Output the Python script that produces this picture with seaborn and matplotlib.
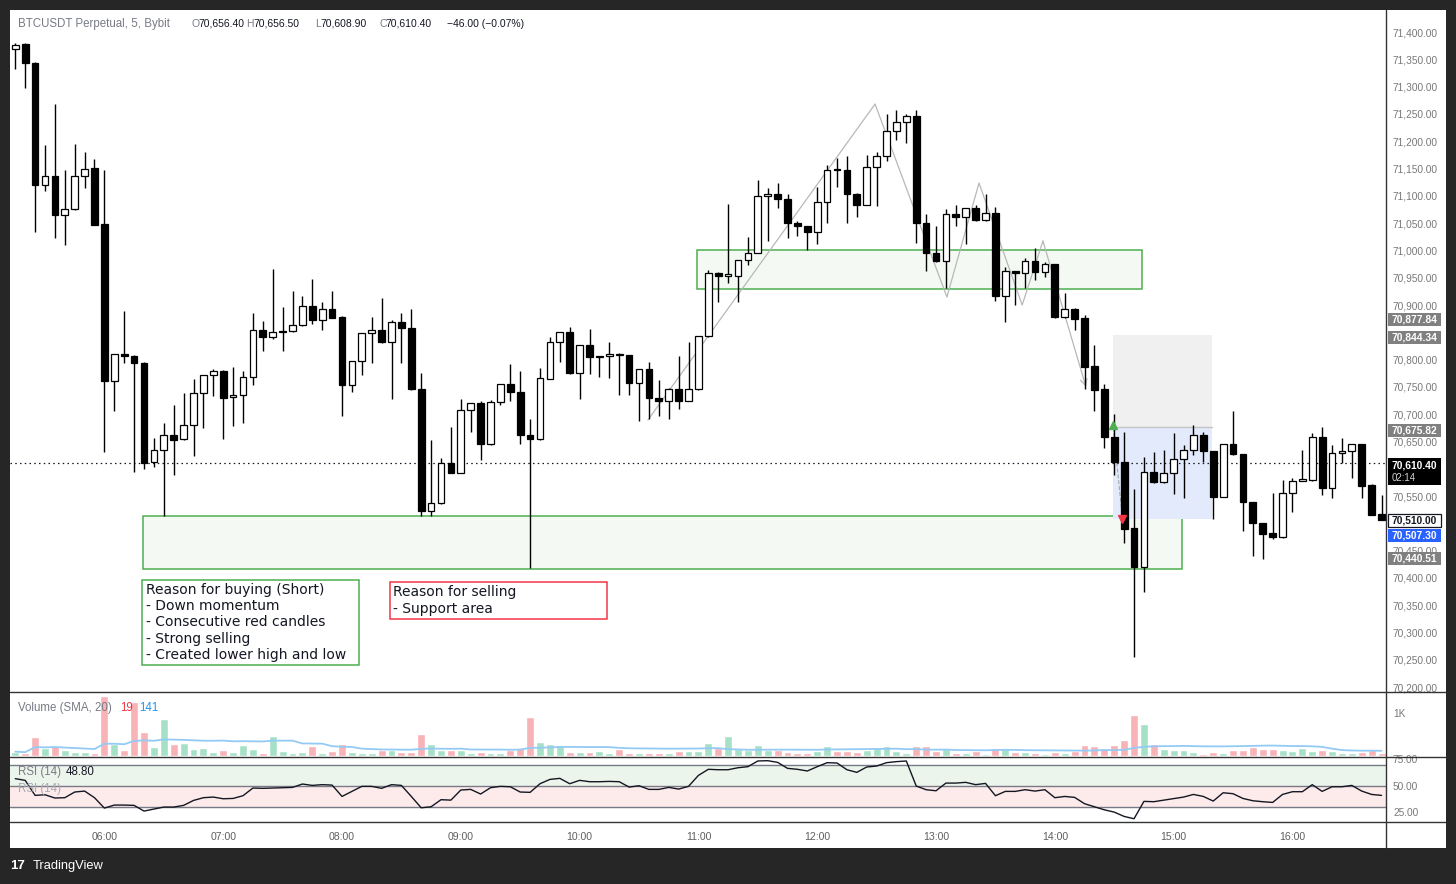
import numpy as np
import pandas as pd
import matplotlib
matplotlib.use("Agg")
import matplotlib.pyplot as plt
import seaborn as sns
from matplotlib.patches import Rectangle
from matplotlib.lines import Line2D

# ---------------- data (5-minute candles, 05:15 -> 16:45) ----------------
opens = [71368, 71378, 71344, 71119, 71137, 71064, 71075, 71137, 71151, 71048,
         70760, 70810, 70807, 70794, 70612, 70634, 70661, 70654, 70680, 70738,
         70771, 70780, 70731, 70736, 70769, 70854, 70842, 70850, 70852, 70863,
         70898, 70873, 70892, 70878, 70754, 70797, 70848, 70855, 70833, 70868,
         70857, 70747, 70523, 70537, 70610, 70593, 70707, 70720, 70645, 70722,
         70755, 70740, 70661, 70654, 70765, 70833, 70850, 70775, 70826, 70805,
         70806, 70811, 70808, 70758, 70782, 70729, 70724, 70746, 70725, 70746,
         70843, 70959, 70954, 70954, 70982, 70996, 71099, 71104, 71095, 71051,
         71044, 71033, 71088, 71149, 71148, 71103, 71084, 71152, 71172, 71218,
         71236, 71247, 71050, 70996, 70980, 71066, 71062, 71077, 71055, 71069,
         70917, 70962, 70958, 70980, 70960, 70975, 70878, 70892, 70876, 70788,
         70746, 70659, 70612, 70492, 70420, 70594, 70575, 70592, 70618, 70634,
         70662, 70632, 70549, 70645, 70627, 70539, 70500, 70482, 70476, 70555,
         70578, 70579, 70658, 70565, 70629, 70632, 70645, 70571, 70517]
highs = [71380, 71379, 71345, 71193, 71268, 71147, 71195, 71180, 71167, 71147,
         70811, 70889, 70808, 70795, 70656, 70683, 70717, 70739, 70765, 70772,
         70783, 70781, 70787, 70779, 70885, 70871, 70966, 70896, 70926, 70917,
         70948, 70906, 70926, 70879, 70798, 70849, 70878, 70913, 70872, 70885,
         70893, 70776, 70652, 70619, 70677, 70728, 70721, 70725, 70726, 70756,
         70792, 70779, 70691, 70785, 70841, 70851, 70860, 70827, 70856, 70807,
         70832, 70813, 70809, 70783, 70795, 70762, 70748, 70806, 70832, 70844,
         70964, 70960, 71085, 70983, 71025, 71129, 71114, 71123, 71103, 71054,
         71045, 71117, 71156, 71170, 71172, 71106, 71174, 71180, 71249, 71258,
         71249, 71258, 71066, 71045, 71076, 71083, 71078, 71083, 71103, 71079,
         70969, 70963, 70986, 71004, 70978, 70976, 70922, 70895, 70881, 70827,
         70755, 70700, 70668, 70563, 70622, 70631, 70634, 70666, 70644, 70680,
         70667, 70633, 70646, 70706, 70628, 70540, 70501, 70555, 70579, 70583,
         70634, 70665, 70676, 70644, 70656, 70646, 70646, 70572, 70552]
lows = [71332, 71298, 71033, 71108, 71023, 71009, 71074, 71115, 71046, 70631,
        70705, 70794, 70595, 70599, 70604, 70514, 70588, 70653, 70624, 70674,
        70734, 70655, 70679, 70683, 70754, 70815, 70838, 70815, 70851, 70862,
        70866, 70855, 70876, 70696, 70740, 70771, 70794, 70831, 70727, 70794,
        70745, 70514, 70514, 70535, 70592, 70592, 70668, 70616, 70644, 70716,
        70725, 70645, 70418, 70652, 70764, 70795, 70774, 70727, 70773, 70769,
        70766, 70736, 70736, 70688, 70691, 70697, 70691, 70710, 70724, 70745,
        70842, 70906, 70940, 70905, 70974, 70996, 71018, 71078, 71022, 71026,
        71001, 71011, 71050, 71117, 71051, 71061, 71083, 71081, 71163, 71203,
        71196, 71013, 70962, 70979, 70932, 71045, 71012, 71054, 71054, 70908,
        70869, 70900, 70931, 70946, 70952, 70877, 70877, 70854, 70746, 70705,
        70639, 70589, 70464, 70255, 70374, 70574, 70574, 70553, 70547, 70625,
        70612, 70508, 70548, 70625, 70486, 70441, 70434, 70471, 70473, 70520,
        70577, 70577, 70552, 70546, 70611, 70584, 70547, 70515, 70506]
closes = [71377, 71344, 71119, 71137, 71064, 71075, 71137, 71150, 71047, 70760,
          70810, 70806, 70793, 70611, 70634, 70661, 70653, 70680, 70739, 70771,
          70780, 70730, 70736, 70769, 70854, 70842, 70850, 70851, 70863, 70898,
          70873, 70892, 70877, 70754, 70797, 70848, 70855, 70833, 70868, 70857,
          70747, 70523, 70537, 70610, 70593, 70707, 70720, 70645, 70722, 70755,
          70740, 70661, 70654, 70766, 70833, 70850, 70775, 70826, 70804, 70806,
          70811, 70808, 70758, 70782, 70729, 70724, 70746, 70725, 70746, 70843,
          70959, 70954, 70955, 70982, 70996, 71099, 71104, 71095, 71051, 71044,
          71033, 71088, 71147, 71147, 71103, 71084, 71152, 71172, 71218, 71236,
          71247, 71050, 70996, 70980, 71066, 71062, 71077, 71055, 71069, 70917,
          70962, 70958, 70980, 70960, 70975, 70878, 70892, 70875, 70787, 70745,
          70659, 70612, 70489, 70420, 70594, 70575, 70592, 70618, 70634, 70662,
          70632, 70549, 70645, 70627, 70539, 70500, 70481, 70476, 70555, 70577,
          70579, 70658, 70565, 70629, 70632, 70645, 70569, 70516, 70507]
volumes = [100, 77, 439, 185, 231, 139, 100, 100, 77, 1394,
           277, 139, 1255, 554, 208, 855, 277, 300, 162, 185,
           100, 139, 100, 254, 162, 77, 462, 116, 77, 100,
           231, 77, 116, 277, 100, 77, 77, 139, 139, 100,
           100, 508, 277, 139, 139, 139, 77, 100, 77, 77,
           139, 185, 909, 323, 277, 254, 100, 100, 100, 116,
           77, 162, 77, 77, 62, 77, 77, 116, 116, 116,
           300, 185, 462, 162, 139, 254, 139, 139, 92, 77,
           77, 116, 231, 116, 116, 100, 139, 185, 231, 116,
           77, 231, 231, 116, 162, 77, 77, 116, 54, 185,
           162, 100, 100, 77, 54, 92, 77, 116, 254, 231,
           185, 254, 370, 947, 739, 277, 162, 139, 139, 100,
           54, 92, 77, 139, 139, 208, 162, 162, 139, 116,
           185, 116, 139, 116, 77, 77, 92, 139, 77]
rsi = [56.7, 55.1, 40.8, 41.4, 38.3, 38.6, 44.0, 44.9, 38.6, 28.7,
       31.6, 31.6, 31.3, 25.9, 27.8, 29.7, 29.7, 31.3, 36.0, 38.6,
       39.2, 37.6, 37.9, 40.5, 47.8, 47.5, 47.8, 48.1, 48.4, 51.6,
       50.3, 51.0, 50.6, 39.8, 44.6, 49.4, 49.4, 47.5, 51.0, 50.3,
       39.8, 29.0, 30.0, 36.7, 36.3, 45.9, 46.5, 42.1, 48.1, 49.4,
       49.0, 44.0, 43.7, 51.9, 56.0, 57.0, 51.9, 55.1, 53.8, 53.8,
       54.1, 53.8, 48.7, 50.0, 46.5, 46.5, 48.4, 46.8, 49.4, 59.8,
       65.6, 65.2, 65.2, 67.1, 68.1, 73.5, 73.8, 72.2, 66.5, 65.6,
       64.0, 68.1, 71.9, 71.6, 65.2, 62.7, 67.8, 68.7, 71.9, 72.9,
       73.5, 49.7, 46.2, 45.2, 52.5, 52.5, 53.2, 51.0, 52.2, 40.5,
       44.6, 44.6, 46.2, 44.9, 46.2, 38.6, 39.8, 38.9, 32.9, 30.0,
       27.1, 24.9, 20.8, 18.6, 35.1, 34.8, 36.3, 37.9, 39.2, 41.7,
       39.8, 35.4, 43.3, 42.4, 37.9, 35.7, 34.8, 34.1, 41.7, 44.3,
       44.3, 51.0, 44.6, 49.0, 49.0, 50.3, 44.9, 41.7, 40.8]

times = pd.date_range("2024-06-07 05:15", periods=len(opens), freq="5min")
hour_labels = ["06:00", "07:00", "08:00", "09:00", "10:00", "11:00",
               "12:00", "13:00", "14:00", "15:00", "16:00"]

# drawings (time index, price)
zone_upper = dict(x0=68.86, x1=113.8, p0=70928.8, p1=71000.2)
zone_lower = dict(x0=12.93, x1=117.85, p0=70416.5, p1=70513.6)
pos_x0, pos_x1 = 110.88, 120.88
pos_stop, pos_entry, pos_target = 70844.34, 70675.82, 70507.30
path_x = [63.9, 86.84, 94.1, 97.34, 101.7, 103.8, 108.15]
path_p = [70689.4, 71268.1, 70914.6, 71123.4, 70900.0, 71017.2, 70749.8]
last_price = 70610.40

price_ticks = np.arange(70200, 71401, 50)
hidden_ticks = {70850, 70600, 70500}
price_labels = [("70,877.84", 70877.84, "#808080", "white", "none", 2),
                ("70,844.34", 70844.34, "#808080", "white", "none", 2),
                ("70,675.82", 70675.82, "#808080", "white", "none", 3),
                ("70,510.00", 70510.00, "white", "#131722", "#131722", 3),
                ("70,507.30", 70507.30, "#2962ff", "white", "none", 16),
                ("70,440.51", 70440.51, "#808080", "white", "none", 3)]

# ---------------- figure ----------------
sns.set_theme(style="white")
plt.rcParams["font.family"] = ["Liberation Sans", "DejaVu Sans"]

W, H = 1456, 884
fig = plt.figure(figsize=(W / 100, H / 100), dpi=100, facecolor="#262626")


def fx(px):
    return px / W


def fy(py):
    return 1 - py / H


fig.patches.append(Rectangle((fx(10), fy(848)), fx(1446) - fx(10), fy(10) - fy(848),
                             transform=fig.transFigure, facecolor="white",
                             edgecolor="none", zorder=-5))

L, R = 10, 1386
ax = fig.add_axes([fx(L), fy(692), fx(R) - fx(L), fy(10) - fy(692)])
axv = fig.add_axes([fx(L), fy(757), fx(R) - fx(L), fy(692) - fy(757)])
axr = fig.add_axes([fx(L), fy(822), fx(R) - fx(L), fy(757) - fy(822)])
XL = (-0.535, 138.45)
for a in (ax, axv, axr):
    a.set_facecolor("white")
    a.set_zorder(1)
    for s in a.spines.values():
        s.set_visible(False)

n = len(opens)
idx = np.arange(n)
o = np.array(opens, float)
c = np.array(closes, float)
hi = np.array(highs, float)
lo = np.array(lows, float)
up = c >= o

# ---- main panel ----
ax.set_xlim(*XL)
ax.set_ylim(70191.2, 71440.3)

for z in (zone_upper, zone_lower):
    ax.add_patch(Rectangle((z["x0"], z["p0"]), z["x1"] - z["x0"], z["p1"] - z["p0"],
                           facecolor="#f4f9f4", edgecolor="#4caf50", lw=1.1, zorder=1))

ax.add_patch(Rectangle((pos_x0, pos_entry), pos_x1 - pos_x0, pos_stop - pos_entry,
                       facecolor="#f0f0f0", edgecolor="none", zorder=1.2))
ax.add_patch(Rectangle((pos_x0, pos_target), pos_x1 - pos_x0, pos_entry - pos_target,
                       facecolor="#e3eafc", edgecolor="none", zorder=1.2))
ax.plot([pos_x0, pos_x1], [pos_entry, pos_entry], color="#c4c4c4", lw=1, zorder=1.3)
ax.plot([110.9, 111.8], [pos_entry, 70514], color="#a8a8a8", lw=0.8, ls="--", zorder=1.4)

ax.plot(path_x[:-1], path_p[:-1], color="#b8b8b8", lw=0.9, zorder=2)
ax.annotate("", xy=(path_x[-1], path_p[-1]), xytext=(path_x[-2], path_p[-2]),
            arrowprops=dict(arrowstyle="->", color="#b8b8b8", lw=0.9,
                            shrinkA=0, shrinkB=0), zorder=2)

ax.axhline(last_price, color="#131722", lw=0.9, ls=(0, (1.2, 2.6)), zorder=2.5)

ax.vlines(idx, lo, hi, color="#000000", lw=1.0, zorder=3)
body_bot = np.minimum(o, c)
body_h = np.maximum(np.abs(c - o), 2.5)
ax.bar(idx, body_h, bottom=body_bot, width=0.68,
       color=np.where(up, "white", "black"), edgecolor="black", linewidth=0.9, zorder=4)

ax.plot([110.9], [70681], marker="^", color="#4caf50", ms=6, zorder=5)
ax.plot([111.8], [70508], marker="v", color="#f23645", ms=6, zorder=5)

# text notes
ax.add_patch(Rectangle((12.83, 70240.1), 34.75 - 12.83, 70396.9 - 70240.1,
                       facecolor="white", edgecolor="#4caf50", lw=1.1, zorder=6))
ax.text(13.2, 70391.0,
        "Reason for buying (Short)\n- Down momentum\n- Consecutive red candles\n"
        "- Strong selling\n- Created lower high and low",
        family="DejaVu Sans", fontsize=10, color="#131722", va="top", ha="left",
        linespacing=1.2, zorder=7)
ax.add_patch(Rectangle((37.82, 70324.4), 59.74 - 37.82, 70393.2 - 70324.4,
                       facecolor="white", edgecolor="#f23645", lw=1.1, zorder=6))
ax.text(38.18, 70386.5, "Reason for selling\n- Support area",
        family="DejaVu Sans", fontsize=10, color="#131722", va="top", ha="left",
        linespacing=1.2, zorder=7)

ax.set_xticks([])
ax.yaxis.tick_right()
ax.set_yticks(price_ticks)
ax.set_yticklabels(["" if v in hidden_ticks else f"{v:,.2f}" for v in price_ticks])
ax.tick_params(axis="y", length=0, pad=5, labelsize=7.3, labelcolor="#787878")

# ---- volume panel ----
vol_df = pd.DataFrame({"i": idx, "vol": volumes,
                       "dir": np.where(up, "up", "down")})
sns.barplot(data=vol_df, x="i", y="vol", hue="dir",
            palette={"up": "#a6e0c7", "down": "#f8b3b7"}, saturation=1,
            dodge=False, width=0.8, legend=False, ax=axv, zorder=2)
sma = pd.Series(volumes).rolling(20, min_periods=1).mean()
sns.lineplot(x=idx, y=sma.values, color="#93cbf5", lw=1.3, ax=axv, zorder=3)
axv.set_xlim(*XL)
axv.set_ylim(-23, 1478)
axv.set_xlabel("")
axv.set_ylabel("")
axv.set_xticks([])
axv.yaxis.tick_right()
axv.set_yticks([1000])
axv.set_yticklabels(["1K"])
axv.tick_params(axis="y", length=0, pad=5, labelsize=7.3, labelcolor="#787878")

# ---- RSI panel ----
axr.set_xlim(*XL)
axr.set_ylim(15.5, 77.3)
axr.axhspan(50, 70, color="#ebf5ec", zorder=0.5)
axr.axhspan(30, 50, color="#fdeaeb", zorder=0.5)
for lvl in (70, 50, 30):
    axr.axhline(lvl, color="#787b86", lw=1, zorder=1)
sns.lineplot(x=idx, y=rsi, color="#131722", lw=1.0, ax=axr, zorder=3)
axr.set_xlabel("")
axr.set_ylabel("")
axr.yaxis.tick_right()
axr.set_yticks([25, 50, 75])
axr.set_yticklabels(["25.00", "50.00", "75.00"])
axr.tick_params(axis="y", length=0, pad=5, labelsize=7.3, labelcolor="#787878")
tick_pos = [i for i, t in enumerate(times) if t.minute == 0 and 6 <= t.hour <= 16]
axr.set_xticks(tick_pos)
axr.set_xticklabels(hour_labels)
axr.tick_params(axis="x", length=0, pad=7, labelsize=7.6, labelcolor="#5f5f5f")

# ---- separators ----
for yy in (692, 757, 822):
    fig.add_artist(Line2D([fx(10), fx(1446)], [fy(yy), fy(yy)], color="#333333", lw=1,
                          transform=fig.transFigure, zorder=10))
fig.add_artist(Line2D([fx(R), fx(R)], [fy(10), fy(848)], color="#333333", lw=1,
                      transform=fig.transFigure, zorder=10))

# ---- right-axis price labels ----
to_fig = fig.transFigure.inverted()


def price_fig_y(p, off_px=0):
    yd = ax.transData.transform((0, p))[1]
    return to_fig.transform((0, yd - off_px))[1]


bw = fx(1441) - fx(1388)
bh = 13 / H
for txt, p, fc, tc, ec, off in price_labels:
    yc = price_fig_y(p, off)
    fig.patches.append(Rectangle((fx(1388), yc - bh / 2), bw, bh, transform=fig.transFigure,
                                 facecolor=fc, edgecolor=ec, lw=0.9, zorder=11))
    fig.text(fx(1392), yc, txt, color=tc, fontsize=7.4, va="center", ha="left",
             fontweight="bold", zorder=12)
# last price (black, with countdown)
yc = price_fig_y(last_price, 8)
fig.patches.append(Rectangle((fx(1388), yc - 27 / H / 2), bw, 27 / H, transform=fig.transFigure,
                             facecolor="#000000", edgecolor="none", zorder=11))
fig.text(fx(1392), yc + 6 / H, "70,610.40", color="white", fontsize=7.4, va="center",
         fontweight="bold", zorder=12)
fig.text(fx(1392), yc - 6.5 / H, "02:14", color="#d0d0d0", fontsize=7.0, va="center",
         zorder=12)

# ---- header / legends ----
hdr_y = fy(24)
gray = "#787b86"
dark = "#131722"
fig.text(fx(18), hdr_y, "BTCUSDT Perpetual, 5, Bybit", color=gray, fontsize=8.3,
         va="center", ha="left", zorder=12)
for xp, s, col in [(191, "O", gray), (198, "70,656.40", dark),
                   (246, "H", gray), (253, "70,656.50", dark),
                   (315, "L", gray), (320, "70,608.90", dark),
                   (379, "C", gray), (385, "70,610.40", dark),
                   (447, "\u221246.00 (\u22120.07%)", dark)]:
    fig.text(fx(xp), hdr_y, s, color=col, fontsize=7.5, va="center", ha="left", zorder=12)

fig.text(fx(18), fy(708), "Volume (SMA, 20)", color=gray, fontsize=8.3, va="center", zorder=12)
fig.text(fx(120), fy(708), "19", color="#f23645", fontsize=8.3, va="center", zorder=12)
fig.text(fx(139), fy(708), "141", color="#2196f3", fontsize=8.3, va="center", zorder=12)
fig.text(fx(18), fy(772), "RSI (14)", color=gray, fontsize=8.3, va="center", zorder=12)
fig.text(fx(66), fy(772), "48.80", color=dark, fontsize=8.3, va="center", zorder=12)
fig.text(fx(18), fy(789), "RSI (14)", color="#a9abb3", fontsize=8.3, va="center", zorder=12)

# ---- footer ----
fig.text(fx(10), fy(866), "17", color="white", fontsize=9.5, fontweight="heavy",
         va="center", ha="left")
fig.text(fx(33), fy(866), "TradingView", color="white", fontsize=9.3, va="center", ha="left")

fig.savefig("out.png", dpi=100, facecolor=fig.get_facecolor())
